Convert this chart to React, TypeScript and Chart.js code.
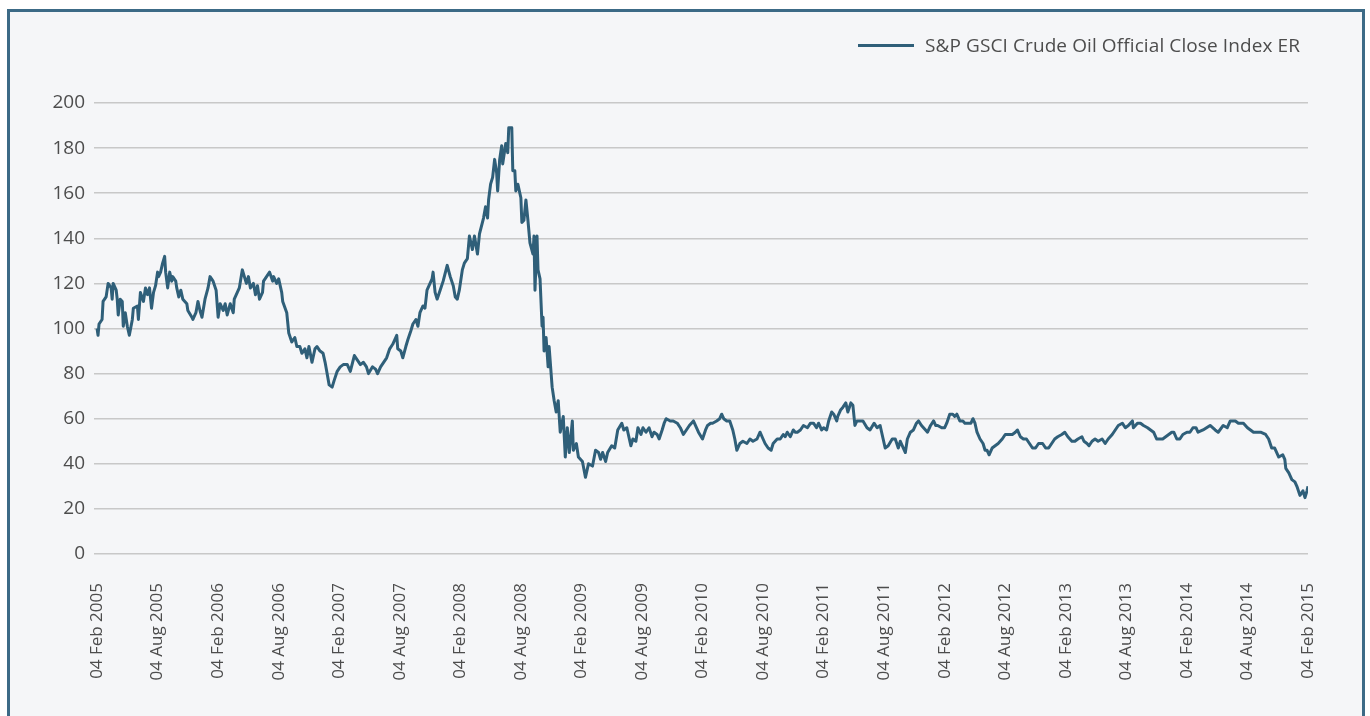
import React, { useEffect, useRef } from 'react';
import { Chart, registerables } from 'chart.js';

Chart.register(...registerables);

const SERIES_LABEL = 'S&P GSCI Crude Oil Official Close Index ER';
const LINE_COLOR = '#2f5f79';
const TEXT_COLOR = '#4d4d4d';
const FONT = '"Open Sans", "Noto Sans", sans-serif';

// x positions: months since 04 Feb 2005
const tickMonths = [0, 6, 12, 18, 24, 30, 36, 42, 48, 54, 60, 66, 72, 78, 84, 90, 96, 102, 108, 114, 120];
const tickLabels = [
  '04 Feb 2005', '04 Aug 2005', '04 Feb 2006', '04 Aug 2006', '04 Feb 2007', '04 Aug 2007',
  '04 Feb 2008', '04 Aug 2008', '04 Feb 2009', '04 Aug 2009', '04 Feb 2010', '04 Aug 2010',
  '04 Feb 2011', '04 Aug 2011', '04 Feb 2012', '04 Aug 2012', '04 Feb 2013', '04 Aug 2013',
  '04 Feb 2014', '04 Aug 2014', '04 Feb 2015',
];

// [month, index level]
const period2005to2006: [number, number][] = [
  [0, 100], [0.1, 97], [0.2, 102], [0.5, 104], [0.6, 112], [0.9, 114], [1.1, 120], [1.4, 118], [1.5, 113],
  [1.6, 120], [1.9, 117], [2.0, 113], [2.1, 106], [2.3, 113], [2.5, 112], [2.6, 101], [2.8, 107], [3.0, 101],
  [3.2, 97], [3.5, 104], [3.6, 109], [4.0, 110], [4.1, 104], [4.3, 116], [4.6, 112], [4.8, 118], [5.0, 115],
  [5.2, 118], [5.4, 109], [5.6, 116], [5.8, 119], [6.0, 125], [6.1, 123], [6.3, 125], [6.5, 129], [6.7, 132],
  [6.8, 125], [7.0, 118], [7.2, 125], [7.4, 121], [7.5, 123], [7.8, 121], [7.9, 118], [8.1, 114], [8.3, 117],
  [8.5, 113], [8.9, 111], [9.0, 108], [9.4, 105], [9.5, 104], [9.8, 107], [10.0, 112], [10.2, 108], [10.4, 105],
  [10.7, 113], [11.0, 118], [11.2, 123], [11.5, 121], [11.8, 117], [12.0, 105], [12.2, 111], [12.5, 108],
  [12.7, 111], [12.9, 106], [13.2, 111], [13.5, 107], [13.6, 113], [13.9, 116], [14.1, 118], [14.4, 126],
  [14.6, 123], [14.8, 120], [15.0, 123], [15.2, 118], [15.5, 120], [15.7, 115], [15.9, 119], [16.1, 113],
  [16.4, 116], [16.5, 121], [16.8, 123], [17.1, 125], [17.4, 121], [17.5, 123], [17.8, 120], [18.0, 122],
  [18.3, 116], [18.4, 112], [18.8, 107], [19.0, 98],
];

const period2006to2008: [number, number][] = [
  [19.3, 94], [19.6, 96], [19.8, 92], [20.1, 92], [20.3, 89], [20.6, 91], [20.8, 87], [21.0, 92], [21.3, 85],
  [21.6, 91], [21.8, 92], [22.1, 90], [22.4, 89], [22.6, 85], [22.8, 80], [23.0, 75], [23.3, 74], [23.5, 77],
  [23.8, 81], [24.1, 83], [24.4, 84], [24.8, 84], [25.1, 81], [25.5, 88], [25.8, 86], [26.1, 84], [26.4, 85],
  [26.7, 83], [26.9, 80], [27.3, 83], [27.6, 82], [27.8, 80], [28.1, 83], [28.4, 85], [28.7, 87], [29.0, 91],
  [29.3, 93], [29.7, 97], [29.8, 91], [30.1, 90], [30.3, 87], [30.6, 92], [30.8, 95], [31.1, 99], [31.3, 102],
  [31.6, 104], [31.8, 101], [32.0, 107], [32.3, 110], [32.5, 109], [32.7, 117], [32.9, 119], [33.2, 122],
  [33.3, 125], [33.5, 116], [33.7, 113], [34.0, 117], [34.3, 121], [34.7, 128], [35.0, 123], [35.3, 119],
  [35.5, 114], [35.7, 113], [35.9, 117], [36.2, 126], [36.4, 129], [36.7, 131], [36.9, 141], [37.2, 135],
  [37.4, 141], [37.7, 133], [37.9, 142],
];

const period2008to2009: [number, number][] = [
  [38.3, 149], [38.5, 154], [38.7, 149], [38.8, 157], [39.0, 164], [39.2, 167], [39.4, 175], [39.6, 169],
  [39.7, 161], [39.9, 175], [40.1, 181], [40.2, 173], [40.5, 182], [40.7, 178], [40.8, 189], [41.1, 189],
  [41.2, 170], [41.4, 170], [41.5, 161], [41.7, 164], [42.0, 158], [42.1, 147], [42.3, 148], [42.5, 157],
  [42.7, 148], [42.9, 138], [43.2, 133], [43.3, 141], [43.4, 117], [43.6, 141], [43.7, 126], [43.9, 122],
  [44.1, 101], [44.2, 105], [44.3, 90], [44.5, 96], [44.7, 83], [44.8, 92], [45.1, 74], [45.3, 68], [45.5, 63],
  [45.7, 68], [45.9, 54], [46.2, 61], [46.4, 43], [46.6, 56], [46.8, 45], [47.1, 59], [47.2, 46], [47.5, 49],
  [47.7, 43], [48.1, 41], [48.4, 34], [48.7, 40], [49.1, 39], [49.4, 46], [49.7, 45], [49.9, 42], [50.1, 45],
  [50.4, 41], [50.6, 45], [51.0, 48], [51.3, 47], [51.6, 55],
];

const period2009to2011: [number, number][] = [
  [52.0, 58], [52.2, 55], [52.5, 56], [52.9, 48], [53.1, 51], [53.4, 50], [53.6, 56], [53.9, 53], [54.1, 56],
  [54.4, 54], [54.7, 56], [55.0, 52], [55.2, 54], [55.5, 53], [55.7, 51], [56.0, 55], [56.2, 58], [56.4, 60],
  [56.8, 59], [57.1, 59], [57.5, 58], [57.8, 56], [58.1, 53], [58.4, 55], [58.7, 57], [59.1, 59], [59.4, 56],
  [59.6, 54], [60.0, 51], [60.3, 55], [60.5, 57], [60.8, 58], [61.0, 58], [61.4, 59], [61.7, 60], [61.9, 62],
  [62.1, 60], [62.4, 59], [62.7, 59], [63.0, 55], [63.2, 51], [63.4, 46], [63.7, 49], [64.0, 50], [64.4, 49],
  [64.7, 51], [65.0, 50], [65.4, 51], [65.7, 54], [66.0, 51], [66.2, 49], [66.5, 47], [66.8, 46], [67.0, 49],
  [67.4, 51], [67.7, 51], [68.0, 53], [68.2, 52], [68.4, 54], [68.7, 52], [69.0, 55], [69.2, 54], [69.4, 54],
  [69.7, 55], [70.0, 57], [70.4, 56], [70.7, 58], [71.0, 58], [71.3, 56], [71.5, 58], [71.8, 55], [72.0, 56],
  [72.3, 55], [72.5, 59], [72.8, 63], [73.0, 62], [73.3, 59], [73.4, 61], [73.7, 64], [73.9, 65], [74.2, 67],
  [74.4, 63], [74.7, 67], [74.9, 66], [75.1, 57], [75.3, 59], [75.6, 59], [75.9, 59], [76.3, 56], [76.6, 55],
  [77.0, 58], [77.3, 56], [77.6, 57], [77.9, 51], [78.1, 47], [78.4, 48], [78.8, 51], [79.1, 51], [79.4, 47],
];

const period2011to2013: [number, number][] = [
  [79.6, 50], [79.9, 47], [80.1, 45], [80.3, 51], [80.6, 54], [80.9, 55], [81.2, 58], [81.4, 59], [81.7, 57],
  [81.9, 56], [82.3, 54], [82.6, 57], [82.9, 59], [83.1, 57], [83.3, 57], [83.7, 56], [84.0, 56], [84.2, 58],
  [84.5, 62], [84.8, 62], [85.0, 61], [85.2, 62], [85.5, 59], [85.8, 59], [86.0, 58], [86.3, 58], [86.6, 58],
  [86.8, 60], [87.0, 58], [87.2, 54], [87.5, 51], [87.8, 49], [88.0, 46], [88.2, 46], [88.4, 44], [88.7, 47],
  [89.0, 48], [89.3, 49], [89.7, 51], [90.0, 53], [90.3, 53], [90.7, 53], [91.0, 54], [91.2, 55], [91.5, 52],
  [91.8, 51], [92.1, 51], [92.4, 49], [92.7, 47], [93.0, 47], [93.3, 49], [93.7, 49], [94.0, 47], [94.3, 47],
  [94.6, 49], [94.9, 51], [95.2, 52], [95.6, 53], [95.9, 54], [96.2, 52], [96.6, 50], [96.9, 50], [97.2, 51],
  [97.6, 52], [97.8, 50], [98.1, 49], [98.3, 48], [98.6, 50], [98.9, 51], [99.2, 50], [99.6, 51], [99.9, 49],
];

const period2013to2015: [number, number][] = [
  [100.2, 51], [100.6, 53], [100.9, 55], [101.2, 57], [101.6, 58], [101.9, 56], [102.2, 57], [102.6, 59],
  [102.7, 56], [103.1, 58], [103.4, 58], [103.7, 57], [104.1, 56], [104.4, 55], [104.7, 54], [105.0, 51],
  [105.2, 51], [105.6, 51], [105.9, 52], [106.2, 53], [106.5, 54], [106.7, 54], [107.0, 51], [107.3, 51],
  [107.6, 53], [108.0, 54], [108.3, 54], [108.6, 56], [108.9, 56], [109.1, 54], [109.6, 55], [110.3, 57],
  [110.8, 55], [111.1, 54], [111.6, 57], [112.0, 56], [112.3, 59], [112.8, 59], [113.1, 58], [113.6, 58],
  [114.0, 56], [114.3, 55], [114.6, 54], [114.9, 54], [115.3, 54], [115.8, 53], [116.1, 51], [116.4, 47],
  [116.7, 47], [116.9, 45], [117.1, 43], [117.5, 44], [117.7, 42], [117.8, 38], [118.1, 36], [118.4, 33],
  [118.7, 32], [118.9, 30], [119.2, 26], [119.5, 28], [119.7, 25], [119.9, 28], [120.0, 30],
];

const allPeriods = [
  period2005to2006, period2006to2008, period2008to2009,
  period2009to2011, period2011to2013, period2013to2015,
];

export default function App() {
  const canvasRef = useRef<HTMLCanvasElement | null>(null);

  useEffect(() => {
    const canvas = canvasRef.current;
    if (!canvas) return;
    const points = allPeriods.flat().map(([m, v]) => ({ x: m, y: v }));
    const chart = new Chart(canvas, {
      type: 'line',
      data: {
        datasets: [
          {
            label: SERIES_LABEL,
            data: points,
            borderColor: LINE_COLOR,
            backgroundColor: LINE_COLOR,
            borderWidth: 3,
            borderJoinStyle: 'round',
            pointRadius: 0,
            tension: 0,
            fill: false,
          },
        ],
      },
      options: {
        animation: false,
        responsive: false,
        maintainAspectRatio: false,
        devicePixelRatio: 1,
        layout: { padding: { top: 103, right: 62, bottom: 0, left: 0 } },
        plugins: {
          legend: { display: false },
          tooltip: { enabled: false },
        },
        scales: {
          x: {
            type: 'linear',
            min: -0.3,
            max: 120,
            grid: { display: false },
            border: { display: false },
            afterBuildTicks: (scale: any) => {
              scale.ticks = tickMonths.map((v) => ({ value: v }));
            },
            afterFit: (scale: any) => {
              scale.height = 162;
            },
            ticks: {
              autoSkip: false,
              minRotation: 90,
              maxRotation: 90,
              padding: 21,
              color: TEXT_COLOR,
              font: { family: FONT, size: 17 },
              callback: (_v: any, i: number) => tickLabels[i],
            },
          },
          y: {
            min: 0,
            max: 200,
            grid: { color: '#c8c8c8', lineWidth: 1.5, drawTicks: false },
            border: { display: false },
            afterFit: (scale: any) => {
              scale.width = 94;
            },
            ticks: {
              stepSize: 20,
              padding: 9,
              color: TEXT_COLOR,
              font: { family: FONT, size: 19 },
            },
          },
        },
      },
    });
    return () => chart.destroy();
  }, []);

  return (
    <div style={{ position: 'fixed', left: 0, top: 0, width: 1370, height: 716, overflow: 'hidden', background: '#ffffff' }}>
      <div
        style={{
          position: 'absolute',
          left: 7,
          top: 9,
          width: 1358,
          height: 800,
          border: '3px solid #3c6a86',
          background: '#f5f6f8',
          boxSizing: 'border-box',
        }}
      />
      <canvas
        ref={canvasRef}
        width={1370}
        height={716}
        style={{ position: 'absolute', left: 0, top: 0, width: 1370, height: 716 }}
      />
      <div
        style={{
          position: 'absolute',
          right: 70,
          top: 33,
          display: 'flex',
          alignItems: 'center',
          fontFamily: FONT,
          fontSize: 19,
          lineHeight: '24px',
          color: TEXT_COLOR,
          whiteSpace: 'nowrap',
          letterSpacing: 0.1,
        }}
      >
        <span style={{ display: 'inline-block', width: 56, height: 3, background: LINE_COLOR, marginRight: 11 }} />
        <span>{SERIES_LABEL}</span>
      </div>
    </div>
  );
}
